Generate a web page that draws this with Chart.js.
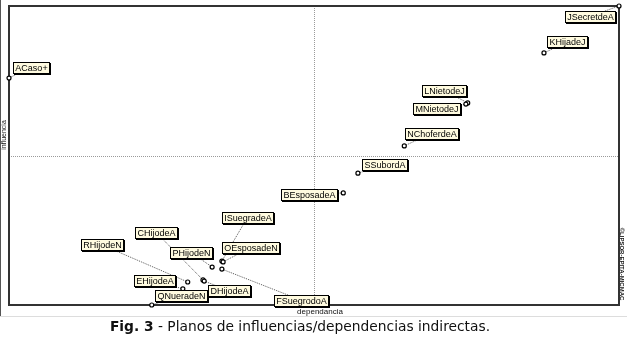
<!DOCTYPE html>
<html>
<head>
<meta charset="utf-8">
<script src="https://cdn.jsdelivr.net/npm/chart.js@4.4.1/dist/chart.umd.min.js"></script>
<style>
  body { margin: 0; background: #fff; }
  #wrap { position: relative; width: 627px; height: 340px; }
  #caption {
    position: absolute; left: 0; top: 318px; width: 600px; text-align: center;
    font-family: "DejaVu Sans", Verdana, sans-serif; font-size: 13.8px; color: #111;
  }
</style>
</head>
<body>
<div id="wrap">
  <canvas id="mapChart" width="627" height="340"></canvas>
  <div id="caption"><b>Fig. 3</b> - Planos de influencias/dependencias indirectas.</div>
</div>
<script>
// variables of the MICMAC indirect influence/dependence plane
const variables = [
  "ACaso+", "JSecretdeA", "KHijadeJ", "LNietodeJ", "MNietodeJ", "NChoferdeA",
  "SSubordA", "BEsposadeA", "ISuegradeA", "OEsposadeN", "PHijodeN", "FSuegrodoA",
  "CHijodeA", "DHijodeA", "RHijodeN", "EHijodeA", "QNueradeN"
];
// dependence (x) and influence (y), 0-100 scale
const dependencia = [0, 100, 87.7, 75.2, 74.9, 64.8, 57.2, 54.8, 34.9, 35.1, 33.3, 34.9, 31.8, 32.0, 29.3, 28.5, 23.4];
const influencia = [75.9, 100, 84.3, 67.6, 67.2, 53.2, 44.1, 37.5, 14.7, 14.4, 12.7, 12.0, 8.4, 8.0, 7.7, 5.4, 0];
// where each tag sits relative to its point (px)
const tagOffsets = [
  [21.5, -11], [-29.5, 10.5], [23, -11], [-24, -12.5], [-29, 4.5], [27, -12.5],
  [27, -8.5], [-34.5, 1.5], [25.5, -43.5], [27.5, -14.5], [-21, -14.5], [79, 31],
  [-46.5, -47], [24.5, 9.5], [-85.5, -37], [-28.5, -8], [29, -10]
];
const MID = 50;

const planePlugin = {
  id: "plane",
  beforeDatasetsDraw(chart) {
    const { ctx, chartArea: a, scales: { x, y } } = chart;
    ctx.save();
    // outer figure edges
    ctx.strokeStyle = "#555";
    ctx.lineWidth = 1;
    ctx.beginPath();
    ctx.moveTo(0.5, 0); ctx.lineTo(0.5, 316);
    ctx.stroke();
    ctx.strokeStyle = "#ddd";
    ctx.beginPath();
    ctx.moveTo(0, 316.5); ctx.lineTo(627, 316.5);
    ctx.stroke();

    // dotted cross at the middle
    ctx.strokeStyle = "#9a9a9a";
    ctx.setLineDash([1, 1]);
    ctx.beginPath();
    const mx = Math.round(x.getPixelForValue(MID)) + 0.5;
    const my = Math.round(y.getPixelForValue(MID)) + 0.5;
    ctx.moveTo(mx, a.top); ctx.lineTo(mx, a.bottom);
    ctx.moveTo(a.left, my); ctx.lineTo(a.right, my);
    ctx.stroke();

    // frame
    ctx.setLineDash([]);
    ctx.strokeStyle = "#333";
    ctx.lineWidth = 2;
    ctx.strokeRect(a.left, a.top, a.right - a.left, a.bottom - a.top);

    // leader lines
    ctx.strokeStyle = "#555";
    ctx.lineWidth = 1;
    ctx.setLineDash([1, 1]);
    variables.forEach((name, i) => {
      const px = x.getPixelForValue(dependencia[i]);
      const py = y.getPixelForValue(influencia[i]);
      ctx.beginPath();
      ctx.moveTo(px, py);
      ctx.lineTo(px + tagOffsets[i][0], py + tagOffsets[i][1]);
      ctx.stroke();
    });
    ctx.setLineDash([]);

    // axis names
    ctx.fillStyle = "#111";
    ctx.font = "8px 'Liberation Sans', Arial, sans-serif";
    ctx.textAlign = "center";
    ctx.textBaseline = "middle";
    ctx.fillText("dependancia", x.getPixelForValue(MID) + 6, a.bottom + 7);
    ctx.save();
    ctx.translate(4, 135);
    ctx.rotate(-Math.PI / 2);
    ctx.font = "7px 'Liberation Sans', Arial, sans-serif";
    ctx.fillText("influencia", 0, 0);
    ctx.restore();
    ctx.save();
    ctx.translate(622, 264);
    ctx.rotate(Math.PI / 2);
    ctx.font = "bold 6px 'Liberation Sans', Arial, sans-serif";
    ctx.fillText("\u00a9LIPSOR-EPITA-MICMAC", 0, 0);
    ctx.restore();
    ctx.restore();
  },
  afterDatasetsDraw(chart) {
    const { ctx, scales: { x, y } } = chart;
    ctx.save();
    ctx.font = "9px 'Liberation Sans', Arial, sans-serif";
    ctx.textAlign = "center";
    ctx.textBaseline = "middle";
    variables.forEach((name, i) => {
      const cx = x.getPixelForValue(dependencia[i]) + tagOffsets[i][0];
      const cy = y.getPixelForValue(influencia[i]) + tagOffsets[i][1];
      const w = Math.ceil(ctx.measureText(name).width) + 3;
      const h = 11;
      const l = Math.round(cx - w / 2), t = Math.round(cy - h / 2);
      ctx.fillStyle = "#fffbe0";
      ctx.fillRect(l, t, w, h);
      // shadowed tag edge
      ctx.fillStyle = "#000";
      ctx.fillRect(l + w, t + 1, 2, h + 1);
      ctx.fillRect(l + 1, t + h, w, 2);
      ctx.strokeStyle = "#000";
      ctx.lineWidth = 1;
      ctx.strokeRect(l + 0.5, t + 0.5, w, h);
      ctx.fillStyle = "#000";
      ctx.fillText(name, l + w / 2 + 0.5, t + h / 2 + 1);
    });
    ctx.restore();
  }
};

new Chart(document.getElementById("mapChart").getContext("2d"), {
  type: "scatter",
  data: {
    datasets: [{
      label: "variables",
      data: dependencia.map((d, i) => ({ x: d, y: influencia[i] })),
      pointRadius: 2,
      pointBorderWidth: 1.2,
      pointBorderColor: "#000",
      pointBackgroundColor: "#fff",
      clip: false
    }]
  },
  options: {
    responsive: false,
    animation: false,
    layout: { padding: { left: 9, right: 8, top: 6, bottom: 35 } },
    scales: {
      x: { type: "linear", min: 0, max: 100, display: false },
      y: { type: "linear", min: 0, max: 100, display: false }
    },
    plugins: {
      legend: { display: false },
      tooltip: { enabled: false }
    }
  },
  plugins: [planePlugin]
});
</script>
</body>
</html>
